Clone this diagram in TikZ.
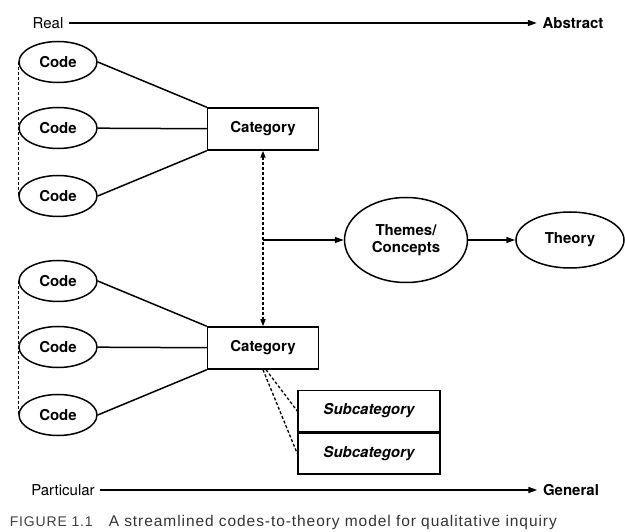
\documentclass[tikz,border=0pt]{standalone}
\usepackage{fontspec}
\setmainfont{TeX Gyre Heros}
\newfontfamily\capfont[LetterSpace=6]{Liberation Sans}
\usetikzlibrary{shapes.geometric,arrows.meta}

\begin{document}
\begin{tikzpicture}[x=1pt,y=-1pt,line width=1.5pt,
    label/.style={font=\fontsize{15}{17}\selectfont\bfseries},
    code/.style={label,draw,ellipse,minimum width=78pt,minimum height=41pt,inner sep=0pt},
    catbox/.style={label,draw,rectangle,minimum width=111pt,minimum height=42pt,inner sep=0pt},
    subbox/.style={label,draw,rectangle,minimum width=142pt,minimum height=41pt,inner sep=0pt,font=\fontsize{15}{17}\selectfont\bfseries\itshape},
    axis/.style={inner sep=5pt,font=\fontsize{15}{17}\selectfont},
    tip/.style={-{Triangle[length=9pt,width=6pt]}},
    dotted line/.style={dashed,line width=1.3pt,dash pattern=on 3pt off 2pt}]
    \useasboundingbox (0,0) rectangle (625,532);
        % real -> abstract
        \node[axis] (real) at (48,23) {Real};
        \node[axis,font=\fontsize{15}{17}\selectfont\bfseries] (abstract) at (573,23) {Abstract};
        \draw[tip] (real) -- (abstract);
        % upper codes
        \node[code] (c1) at (58,62) {Code};
        \node[code] (c2) at (58,128) {Code};
        \node[code] (c3) at (58,196) {Code};
        \node[catbox] (cat1) at (263,129) {Category};
        \draw (c1.east) -- (cat1.north west);
        \draw (c2) -- (cat1);
        \draw (c3.east) -- (cat1.south west);
        \draw[dotted line] (c1.west) -- (c3.west);
        % lower codes
        \node[code] (c4) at (58,281) {Code};
        \node[code] (c5) at (58,347) {Code};
        \node[code] (c6) at (58,415) {Code};
        \node[catbox] (cat2) at (263,348) {Category};
        \draw (c4.east) -- (cat2.north west);
        \draw (c5) -- (cat2);
        \draw (c6.east) -- (cat2.south west);
        \draw[dotted line] (c4.west) -- (c6.west);
        \node[subbox] (sub1) at (369,411) {Subcategory};
        \node[subbox,anchor=north] (sub2) at (sub1.south) {Subcategory};
        \draw[dotted line] ([xshift=3pt]cat2.south) -- (sub1.west);
        \draw[dotted line] (cat2.south) -- (sub2.west);
        % themes and theory
        \node[label,draw,ellipse,minimum width=123pt,minimum height=85pt,inner sep=0pt,align=center] (themes) at (406,240) {Themes/\\Concepts};
        \node[label,draw,ellipse,minimum width=108pt,minimum height=56pt,inner sep=0pt] (theory) at (570,240) {Theory};
        \draw[dotted line,{Triangle[length=7pt,width=5pt]}-{Triangle[length=7pt,width=5pt]}] (cat1) -- (cat2);
        \coordinate (hub) at (cat1.south |- themes.west);
        \draw[tip] (hub) -- (themes);
        \draw[tip] (themes) -- (theory);
        % particular -> general
        \node[axis] (particular) at (63,490) {Particular};
        \node[axis,font=\fontsize{15}{17}\selectfont\bfseries] (general) at (571,490) {General};
        \draw[tip] (particular) -- (general);
        \node[anchor=west,inner sep=4pt,text=black!75,font=\capfont\fontsize{14}{16}\selectfont] (fig) at (5,522) {FIGURE 1.1};
        \node[anchor=west,inner sep=4pt,text=black!80,font=\capfont\fontsize{15.5}{17}\selectfont] (caption) at (104,522) {A streamlined codes-to-theory model for qualitative inquiry};
    \end{tikzpicture}
\end{document}
